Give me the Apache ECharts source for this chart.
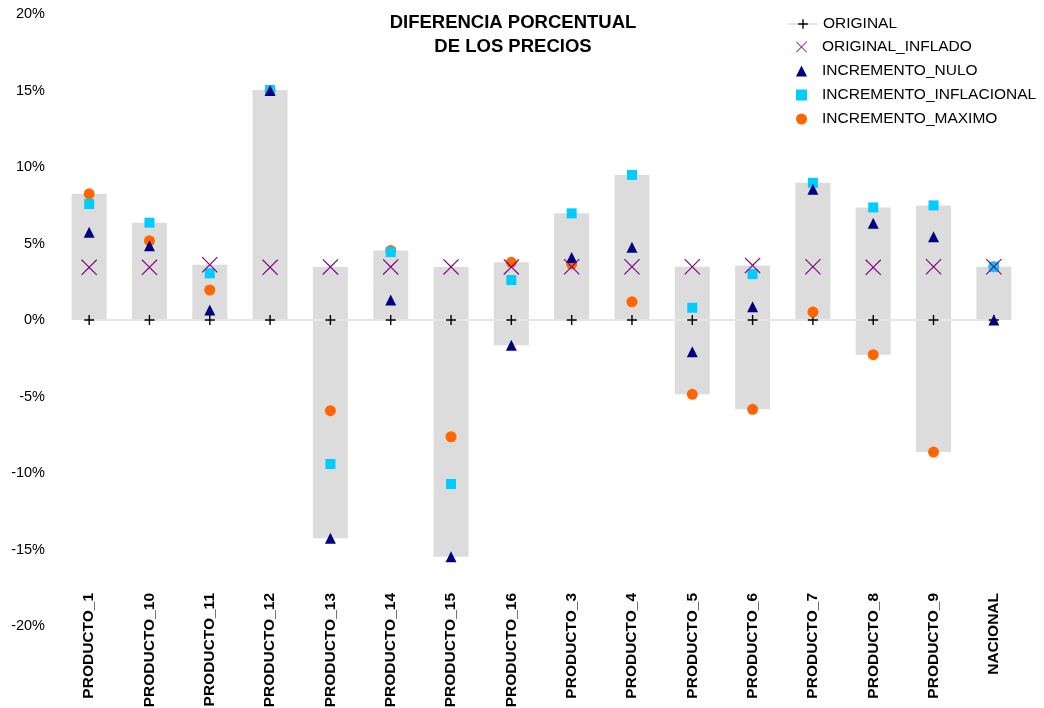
<!DOCTYPE html>
<html>
<head>
<meta charset="utf-8">
<script src="https://cdn.jsdelivr.net/npm/echarts@6/dist/echarts.min.js"></script>
<style>
html, body { margin: 0; padding: 0; background: #fff; }
#chart { width: 1044px; height: 708px; }
</style>
</head>
<body>
<div id="chart"></div>
<script>
var categories = ['PRODUCTO_1', 'PRODUCTO_10', 'PRODUCTO_11', 'PRODUCTO_12', 'PRODUCTO_13', 'PRODUCTO_14', 'PRODUCTO_15', 'PRODUCTO_16',
    'PRODUCTO_3', 'PRODUCTO_4', 'PRODUCTO_5', 'PRODUCTO_6', 'PRODUCTO_7', 'PRODUCTO_8', 'PRODUCTO_9', 'NACIONAL'];
var original = [0, 0, 0, 0, 0, 0, 0, 0, 0, 0, 0, 0, 0, 0, 0, 0];
var originalInflado = [3.44, 3.44, 3.61, 3.44, 3.47, 3.47, 3.47, 3.47, 3.48, 3.48, 3.48, 3.57, 3.48, 3.44, 3.48, 3.48];
var incrementoNulo = [5.73, 4.86, 0.65, 15.0, -14.27, 1.31, -15.47, -1.65, 4.09, 4.75, -2.07, 0.87, 8.54, 6.32, 5.44, 0];
var incrementoInflacional = [7.58, 6.36, 3.05, 15.03, -9.41, 4.44, -10.72, 2.61, 6.97, 9.48, 0.80, 3.00, 8.97, 7.36, 7.49, 3.48];
var incrementoMaximo = [8.25, 5.18, 1.96, 15.0, -5.93, 4.55, -7.63, 3.77, 3.66, 1.19, -4.86, -5.84, 0.52, -2.27, -8.63, 3.48];
var yTicks = [-20, -15, -10, -5, 0, 5, 10, 15, 20];

// barra gris: del minimo al maximo de las cinco series
var rangos = [];
for (let i = 0; i < categories.length; i++) {
    let vals = [original[i], originalInflado[i], incrementoNulo[i], incrementoInflacional[i], incrementoMaximo[i]];
    rangos.push([i, Math.min.apply(null, vals), Math.max.apply(null, vals)]);
}

var plusPath = 'path://M43,0 H57 V43 H100 V57 H57 V100 H43 V57 H0 V43 H43 Z';
var crossPath = 'path://M0,5 L5,0 L50,45 L95,0 L100,5 L55,50 L100,95 L95,100 L50,55 L5,100 L0,95 L45,50 Z';
var legendText = { fontSize: 15.5, color: '#000', lineHeight: 14 };

var myChart = echarts.init(document.getElementById('chart'));
myChart.setOption({
    animation: false,
    textStyle: { fontFamily: 'Liberation Sans, Arial, sans-serif' },
    title: {
        text: 'DIFERENCIA PORCENTUAL\nDE LOS PRECIOS',
        left: 508,
        top: 6,
        textAlign: 'center',
        textStyle: { fontSize: 18.5, fontWeight: 'bold', color: '#000', lineHeight: 24 }
    },
    legend: [
        {
            orient: 'vertical',
            left: 787,
            top: 16,
            padding: 0,
            itemWidth: 30,
            itemHeight: 12,
            selectedMode: false,
            textStyle: legendText,
            data: ['ORIGINAL']
        },
        {
            orient: 'vertical',
            left: 796,
            top: 39,
            padding: 0,
            itemWidth: 11,
            itemHeight: 11,
            itemGap: 8,
            selectedMode: false,
            textStyle: Object.assign({ padding: [0, 0, 0, 10] }, legendText),
            data: ['ORIGINAL_INFLADO', 'INCREMENTO_NULO', 'INCREMENTO_INFLACIONAL', 'INCREMENTO_MAXIMO']
        }
    ],
    grid: { left: 59, right: 20, top: 14, bottom: 82, outerBoundsMode: 'none', containLabel: false },
    xAxis: {
        type: 'category',
        data: categories,
        axisLine: { show: false },
        axisTick: { show: false },
        axisLabel: { rotate: 90, margin: -33, fontSize: 15.5, fontWeight: 'bold', color: '#000', interval: 0 }
    },
    yAxis: {
        type: 'value',
        min: yTicks[0],
        max: yTicks[yTicks.length - 1],
        interval: 5,
        axisLine: { show: false },
        axisTick: { show: false },
        splitLine: { show: false },
        axisLabel: { formatter: '{value}%', fontSize: 14.5, color: '#000', margin: 14 }
    },
    series: [
        {
            type: 'custom',
            name: 'rango',
            silent: true,
            z: 1,
            data: rangos,
            encode: { x: 0, y: [1, 2] },
            renderItem: function (params, api) {
                let x = api.value(0);
                let top = api.coord([x, api.value(2)]);
                let bottom = api.coord([x, api.value(1)]);
                let w = api.size([1, 0])[0] * 0.58;
                return {
                    type: 'rect',
                    shape: { x: top[0] - w / 2, y: top[1], width: w, height: bottom[1] - top[1] },
                    style: { fill: '#dcdcdc' }
                };
            }
        },
        {
            name: 'INCREMENTO_MAXIMO',
            type: 'scatter',
            z: 3,
            symbol: 'circle',
            symbolSize: 11,
            itemStyle: { color: '#ff6600', opacity: 1 },
            data: incrementoMaximo
        },
        {
            name: 'INCREMENTO_INFLACIONAL',
            type: 'scatter',
            z: 4,
            symbol: 'rect',
            symbolSize: 10,
            itemStyle: { color: '#00ccff', opacity: 1 },
            data: incrementoInflacional
        },
        {
            name: 'INCREMENTO_NULO',
            type: 'scatter',
            z: 5,
            symbol: 'triangle',
            symbolSize: 11,
            itemStyle: { color: '#000080', opacity: 1 },
            data: incrementoNulo
        },
        {
            name: 'ORIGINAL_INFLADO',
            type: 'scatter',
            z: 6,
            symbol: crossPath,
            symbolSize: 16,
            itemStyle: { color: '#800080', opacity: 1 },
            data: originalInflado
        },
        {
            name: 'ORIGINAL',
            type: 'line',
            z: 2,
            symbol: plusPath,
            symbolSize: 10,
            showSymbol: true,
            itemStyle: { color: '#000' },
            lineStyle: { color: '#e6e6e6', width: 2 },
            data: original
        }
    ]
});
</script>
</body>
</html>
